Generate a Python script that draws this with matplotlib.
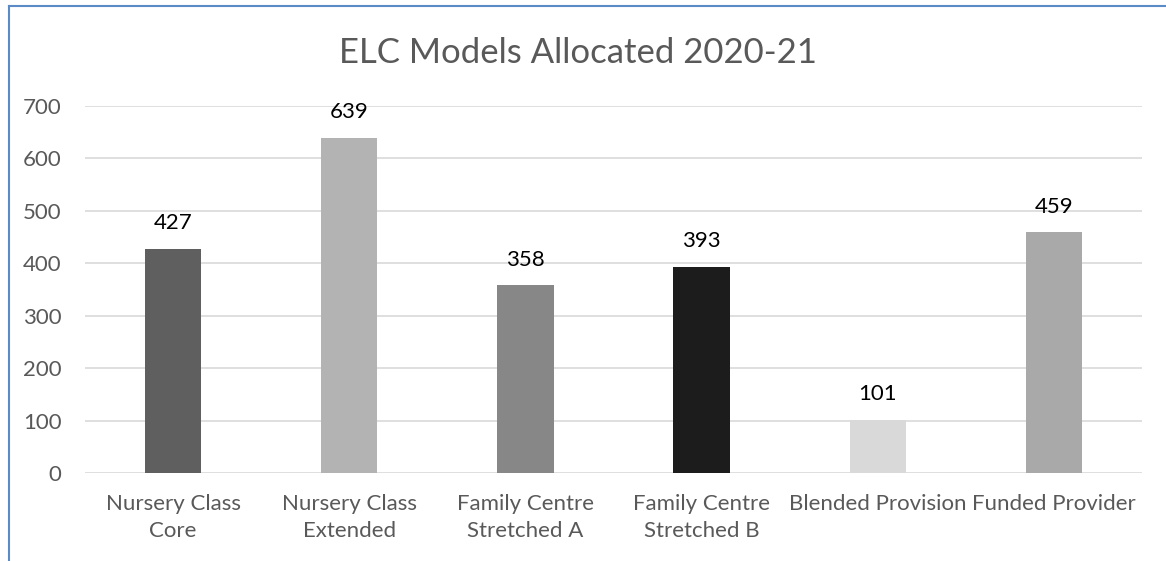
import matplotlib
matplotlib.use("Agg")
import matplotlib.pyplot as plt
from matplotlib.lines import Line2D

categories = ["Nursery Class\nCore", "Nursery Class\nExtended", "Family Centre\nStretched A",
              "Family Centre\nStretched B", "Blended Provision", "Funded Provider"]
values = [427, 639, 358, 393, 101, 459]
bar_colors = ["#5f5f5f", "#b3b3b3", "#878787", "#1c1c1c", "#d9d9d9", "#a9a9a9"]
yticks = [0, 100, 200, 300, 400, 500, 600, 700]
title = "ELC Models Allocated 2020-21"

plt.rcParams['font.family'] = ['Lato', 'DejaVu Sans']

W, H = 1166, 561
fig = plt.figure(figsize=(W / 100, H / 100), dpi=100)
ax = fig.add_axes([85 / W, 1 - 473 / H, (1142 - 85) / W, (473 - 106) / H])

x = list(range(len(categories)))
bars = ax.bar(x, values, width=0.32, color=bar_colors, zorder=3)
for xi, v in zip(x, values):
    ax.text(xi, v + 30, str(v), ha='center', va='bottom', fontsize=16, color='black')

ax.set_xlim(-0.5, len(categories) - 0.5)
ax.set_ylim(0, 700)
ax.set_yticks(yticks)
ax.set_xticks(x)
ax.set_xticklabels(categories, fontsize=16, color='#595959', linespacing=1.45)
ax.tick_params(axis='y', labelsize=16, labelcolor='#595959', length=0, pad=17)
ax.tick_params(axis='x', length=0, pad=15)
ax.grid(axis='y', color='#d9d9d9', linewidth=1.2, zorder=0)
for s in ax.spines.values():
    s.set_visible(False)

fig.text(0.496, 1 - 53 / H, title, ha='center', va='center', fontsize=25, color='#595959')

# partial chart border (left and top)
bc = '#5b8bc7'
fig.add_artist(Line2D([9 / W, 9 / W], [0, 1 - 6 / H], transform=fig.transFigure, color=bc, lw=1.5))
fig.add_artist(Line2D([9 / W, 1], [1 - 6 / H, 1 - 6 / H], transform=fig.transFigure, color=bc, lw=1.5))

fig.savefig("out.png", dpi=100)
